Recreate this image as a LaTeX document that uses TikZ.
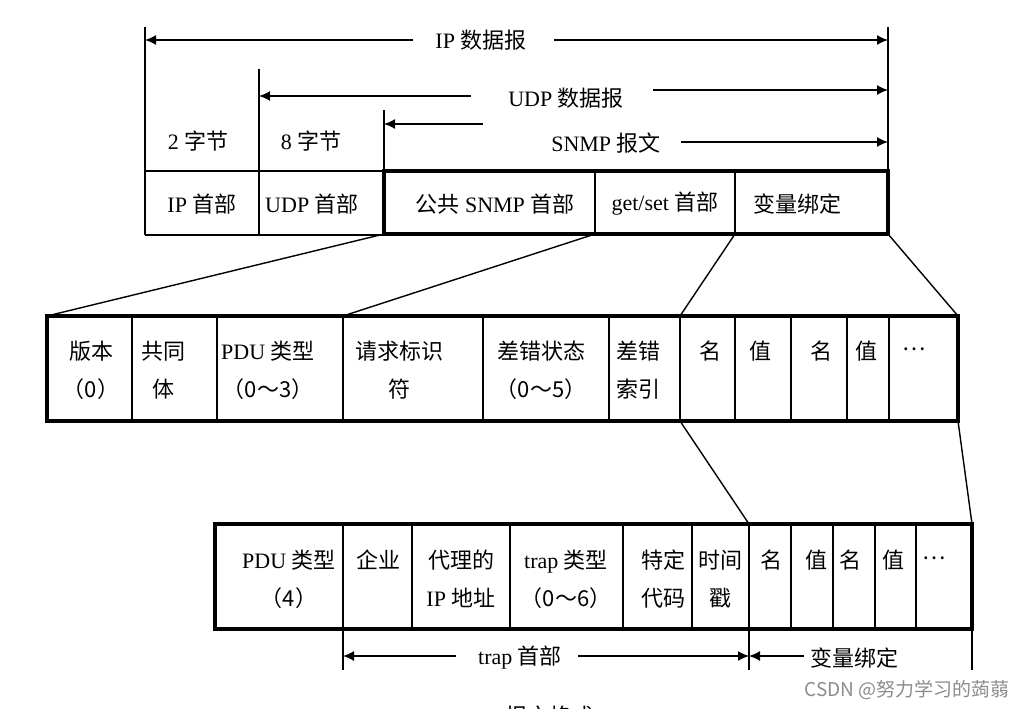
\documentclass[tikz,border=0pt]{standalone}
\usepackage{fontspec}
\setmainfont{Liberation Serif}
\newfontfamily\cjk{Noto Sans CJK SC}
\usetikzlibrary{arrows.meta}
\newcommand\zh[1]{{\cjk #1}}
\begin{document}
\begin{tikzpicture}[x=1pt,y=-1pt,
  ln/.style={line width=1.4pt},
  tk/.style={line width=3.4pt},
  lbl/.style={font=\fontsize{22}{38}\selectfont, inner sep=0pt, align=center},
  tip/.style={ln,-{Latex[length=11pt,width=10pt]}},
]
\path[use as bounding box, clip] (0,0) rectangle (1025,709);
\fill[white] (0,0) rectangle (1025,709);

% ---------- top section ----------
\coordinate (a1) at (145,27);  \coordinate (a2) at (145,235);
\coordinate (b1) at (259,69);  \coordinate (b2) at (259,235);
\coordinate (c1) at (384,110); \coordinate (c2) at (384,171);
\coordinate (d1) at (888,27);  \coordinate (d2) at (888,171);
\draw[ln] (a1) -- (a2) (b1) -- (b2) (c1) -- (c2) (d1) -- (d2);

\draw[ln] (145,171) -- (384,171) (145,235) -- (384,235);
\coordinate (sTL) at (384,171); \coordinate (sBR) at (888,234);
\coordinate (sBL) at (384,234); \coordinate (sM1) at (595,234); \coordinate (sM2) at (735,234);
\draw[ln] (595,171) -- (sM1) (735,171) -- (sM2);
\draw[tk] (sTL) rectangle (sBR);

\node[lbl] (ip) at (481,40) {IP \zh{数据报}};
\coordinate (ipL) at (413,40); \coordinate (ipR) at (554,40);
\draw[tip] (ipL) -- (a1 |- ipL);
\draw[tip] (ipR) -- (d1 |- ipR);

\node[lbl] (udp) at (566,98) {UDP \zh{数据报}};
\coordinate (udpL) at (471,96); \coordinate (udpR) at (653,90);
\draw[tip] (udpL) -- (b1 |- udpL);
\draw[tip] (udpR) -- (d1 |- udpR);

\node[lbl] (snmp) at (606,143) {SNMP \zh{报文}};
\coordinate (snL) at (483,124); \coordinate (snR) at (681,142);
\draw[tip] (snL) -- (c1 |- snL);
\draw[tip] (snR) -- (d1 |- snR);

\node[lbl] (w2) at (198,141) {2 \zh{字节}};
\node[lbl] (w8) at (311,141) {8 \zh{字节}};
\node[lbl] (h1) at (202,204) {IP \zh{首部}};
\node[lbl] (h2) at (312,204) {UDP \zh{首部}};
\node[lbl] (h3) at (495,204) {\zh{公共} SNMP \zh{首部}};
\node[lbl] (h4) at (665,204) {get/set \zh{首部}};
\node[lbl] (h5) at (797,204) {\zh{变量绑定}};

% ---------- middle section ----------
\coordinate (mTL) at (47,316);  \coordinate (mBR) at (958,421);
\coordinate (m343t) at (343,316); \coordinate (m680t) at (680,316);
\coordinate (mTR) at (958,316); \coordinate (m680b) at (680,421);
\foreach \x in {132,217,343,483,609,680,735,791,847,889}
  \draw[ln] (\x,316) -- (\x,421);
\draw[tk] (mTL) rectangle (mBR);

\draw[ln] (sBL) -- (mTL);
\draw[ln] (sM1) -- (m343t);
\draw[ln] (sM2) -- (m680t);
\draw[ln] (sBR) -- (mTR);

\node[lbl] (n1) at (91,370) {\zh{版本}\\\zh{（0）}};
\node[lbl] (n2) at (163,370) {\zh{共同}\\\zh{体}};
\node[lbl] (n3) at (268,370) {PDU \zh{类型}\\\zh{（0～3）}};
\node[lbl] (n4) at (399,370) {\zh{请求标识}\\\zh{符}};
\node[lbl] (n5) at (541,370) {\zh{差错状态}\\\zh{（0～5）}};
\node[lbl] (n6) at (638,370) {\zh{差错}\\\zh{索引}};
\node[lbl] (n7) at (710,351) {\zh{名}};
\node[lbl] (n8) at (760,351) {\zh{值}};
\node[lbl] (n9) at (821,351) {\zh{名}};
\node[lbl] (n10) at (866,351) {\zh{值}};
\node[lbl] (n11) at (914,349) {\zh{…}};

% ---------- bottom section ----------
\coordinate (tTL) at (215,524); \coordinate (tBR) at (972,629);
\coordinate (t749t) at (749,524); \coordinate (tTR) at (972,524);
\foreach \x in {343,412,510,623,692,749,791,833,875,916}
  \draw[ln] (\x,524) -- (\x,629);
\draw[tk] (tTL) rectangle (tBR);

\draw[ln] (m680b) -- (t749t);
\draw[ln] (mBR) -- (tTR);

\node[lbl] (p1) at (289,579) {PDU \zh{类型}\\\zh{（4）}};
\node[lbl] (p2) at (378,560) {\zh{企业}};
\node[lbl] (p3) at (461,579) {\zh{代理的}\\IP \zh{地址}};
\node[lbl] (p4) at (566,579) {trap \zh{类型}\\\zh{（0～6）}};
\node[lbl] (p5) at (663,579) {\zh{特定}\\\zh{代码}};
\node[lbl] (p6) at (720,579) {\zh{时间}\\\zh{戳}};
\node[lbl] (p7) at (771,560) {\zh{名}};
\node[lbl] (p8) at (816,560) {\zh{值}};
\node[lbl] (p9) at (850,560) {\zh{名}};
\node[lbl] (p10) at (893,560) {\zh{值}};
\node[lbl] (p11) at (934,558) {\zh{…}};

\coordinate (e1) at (343,629); \coordinate (e2) at (343,670);
\coordinate (f1) at (749,629); \coordinate (f2) at (749,670);
\coordinate (g1) at (972,629); \coordinate (g2) at (972,670);
\draw[ln] (e1) -- (e2) (f1) -- (f2) (g1) -- (g2);

\node[lbl] (tr) at (520,658) {trap \zh{首部}};
\coordinate (trL) at (456,656); \coordinate (trR) at (578,656);
\draw[tip] (trL) -- (e1 |- trL);
\draw[tip] (trR) -- (f1 |- trR);

\node[lbl] (vb) at (854,658) {\zh{变量绑定}};
\coordinate (vbL) at (804,656);
\draw[tip] (vbL) -- (f1 |- vbL);

\node[font=\cjk\fontsize{19}{19}\selectfont, text=black!45, anchor=east, inner sep=0pt] (wm) at (1010,690) {CSDN @努力学习的蒟蒻};
\node[lbl] (cap) at (549,716) {\zh{报文格式}};
\end{tikzpicture}
\end{document}
